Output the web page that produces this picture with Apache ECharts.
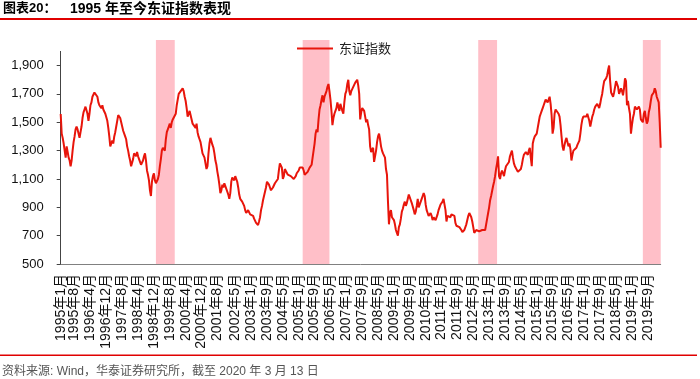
<!DOCTYPE html>
<html><head><meta charset="utf-8">
<script src="https://cdn.jsdelivr.net/npm/echarts@6/dist/echarts.min.js"></script>
<style>
html,body{margin:0;padding:0;background:#fff}
#wrap{position:relative;width:700px;height:379px}
#c{width:700px;height:379px}
#rule{position:absolute;left:0;top:18px;width:697px;height:1.5px;background:#E00000;z-index:10}
</style>
</head><body><div id="wrap"><div id="c"></div><div id="rule"></div></div>
<script>
// ---- data ----
// semi-monthly observation dates (1st and 16th of each month), last one 2020/3/13
const startYear = 1995, endYear = 2020, endMonth = 3, lastDay = 13;
const categories = [];
for (let y = startYear; y <= endYear; y++) {
  for (let m = 1; m <= 12; m++) {
    if (y === endYear && m > endMonth) break;
    categories.push(y + '/' + m + '/1');
    categories.push(y + '/' + m + '/' + ((y === endYear && m === endMonth) ? lastDay : 16));
  }
}
const tickLabels = ['1995年1月','1995年8月','1996年4月','1996年12月','1997年8月','1998年4月','1998年12月','1999年8月',
  '2000年4月','2000年12月','2001年8月','2002年5月','2003年1月','2003年9月','2004年5月','2005年1月','2005年9月',
  '2006年5月','2007年1月','2007年9月','2008年5月','2009年1月','2009年9月','2010年5月','2011年1月','2011年9月',
  '2012年5月','2013年1月','2013年9月','2014年5月','2015年1月','2015年9月','2016年5月','2017年1月','2017年9月',
  '2018年5月','2019年1月','2019年9月'];
const yTicks = [500, 700, 900, 1100, 1300, 1500, 1700, 1900];
const seriesName = '东证指数';
const topixValues = [
  1558,1420,1390,1350,1300,1250,1330,1290,1250,1230,1190,1230,1300,1360,1400,1450,1470,1450,1420,1390,1430,1470,1530,1570, // 1995
  1590,1610,1600,1560,1510,1560,1620,1640,1680,1690,1710,1720,1700,1680,1640,1620,1610,1600,1620,1590,1580,1560,1550,1510, // 1996
  1460,1400,1330,1350,1370,1350,1400,1430,1470,1510,1550,1540,1530,1500,1490,1440,1430,1400,1380,1330,1300,1260,1230,1190, // 1997
  1190,1240,1280,1270,1260,1290,1260,1240,1220,1200,1200,1230,1260,1280,1230,1160,1130,1090,1020,980,1080,1120,1140,1090,  // 1998
  1070,1080,1100,1130,1190,1240,1300,1320,1330,1300,1380,1430,1450,1470,1490,1460,1500,1520,1530,1520,1560,1620,1660,1700, // 1999
  1690,1720,1730,1740,1720,1680,1650,1600,1540,1560,1580,1550,1520,1490,1500,1480,1460,1490,1430,1400,1380,1360,1320,1280, // 2000
  1270,1250,1210,1170,1190,1280,1350,1390,1380,1340,1320,1280,1230,1200,1150,1110,1060,1000,1020,1060,1040,1070,1050,1040, // 2001
  1010,990,960,1000,1080,1110,1100,1090,1120,1130,1080,1040,990,960,970,940,930,910,880,860,870,880,870,850,               // 2002
  850,840,840,820,810,790,780,775,800,830,880,910,950,960,1010,1040,1080,1090,1060,1040,1020,1030,1040,1050,               // 2003
  1070,1080,1060,1100,1160,1210,1200,1180,1100,1120,1170,1180,1160,1130,1120,1130,1120,1110,1130,1100,1110,1120,1140,1150, // 2004
  1160,1180,1170,1190,1180,1160,1130,1120,1140,1150,1160,1180,1190,1200,1250,1300,1350,1420,1450,1430,1520,1590,1620,1660, // 2005
  1690,1640,1680,1700,1720,1750,1770,1720,1660,1580,1480,1530,1560,1550,1600,1640,1610,1580,1630,1620,1580,1560,1640,1700, // 2006
  1720,1770,1800,1720,1690,1720,1730,1750,1760,1780,1790,1800,1760,1700,1520,1570,1600,1590,1580,1540,1500,1520,1480,1450, // 2007
  1330,1290,1280,1320,1220,1210,1300,1360,1400,1420,1380,1330,1300,1280,1270,1250,1170,1130,940,780,860,880,830,820,       // 2008
  810,780,740,720,700,760,780,820,870,890,920,940,910,930,960,990,980,950,930,920,880,850,870,910,                         // 2009
  960,900,890,910,960,980,1000,980,920,880,860,840,850,860,840,810,830,840,810,820,850,880,900,920,                        // 2010
  920,940,960,970,880,800,840,850,840,830,850,860,850,840,790,770,770,760,760,750,740,725,730,740,                         // 2011
  750,780,810,840,860,860,830,800,760,720,710,740,750,740,730,735,730,740,735,730,740,780,820,860,                         // 2012
  900,950,980,990,1050,1080,1120,1170,1210,1260,1120,1100,1140,1160,1140,1120,1160,1190,1200,1190,1220,1260,1280,1300,     // 2013
  1250,1210,1190,1180,1200,1150,1160,1140,1170,1200,1240,1270,1280,1290,1280,1270,1300,1320,1250,1190,1350,1380,1400,1410, // 2014
  1420,1460,1500,1540,1560,1580,1600,1620,1640,1660,1670,1640,1660,1680,1630,1550,1420,1460,1560,1590,1600,1580,1560,1540, // 2015
  1480,1400,1330,1300,1340,1370,1390,1360,1330,1350,1310,1230,1270,1300,1310,1300,1320,1340,1350,1370,1420,1480,1520,1540, // 2016
  1540,1550,1540,1560,1550,1510,1470,1460,1540,1560,1590,1610,1620,1630,1620,1600,1630,1670,1700,1750,1790,1780,1810,1830, // 2017
  1870,1900,1790,1710,1720,1680,1710,1750,1790,1780,1750,1700,1720,1740,1720,1690,1740,1810,1790,1620,1650,1600,1560,1420, // 2018
  1480,1530,1560,1610,1620,1590,1600,1610,1590,1520,1520,1500,1560,1580,1530,1490,1510,1570,1600,1650,1690,1700,1710,1740, // 2019
  1720,1680,1690,1640,1500,1320                                                                                             // 2020
];
const bandStarts = ['1999/1/1', '2005/3/1', '2012/7/16', '2019/6/16'];
const bandEnds   = ['1999/10/16', '2006/4/16', '2013/5/1', '2020/3/13'];

// ---- chart ----
const FONT = '"Liberation Sans","Noto Sans CJK SC",sans-serif';
const RED = '#E8150B';
const toLabel = v => { const p = v.split('/'); return p[0] + '年' + p[1] + '月'; };
const chart = echarts.init(document.getElementById('c'), null, {renderer: 'canvas'});
const fmt = v => String(v).replace(/\B(?=(\d{3})+(?!\d))/g, ',');
chart.setOption({
  animation: false,
  backgroundColor: '#fff',
  grid: [
    {left: 60.7, right: 39.3, top: 51.4, bottom: 115},
    {left: 60.7, right: 39.3, top: 40, bottom: 115}
  ],
  legend: {
    data: [{name: seriesName, icon: 'rect'}], left: 297, top: 42, padding: 0,
    itemWidth: 36, itemHeight: 2, itemGap: 6,
    textStyle: {fontSize: 13, color: '#222', fontFamily: '"Noto Sans CJK SC",sans-serif', padding: [0, 0, 0, 1]}
  },
  xAxis: [
    {type: 'category', gridIndex: 0, data: categories, boundaryGap: false,
     axisLine: {lineStyle: {color: '#808080', width: 1}}, axisTick: {show: false},
     axisLabel: {interval: (i, v) => v.endsWith('/1') && tickLabels.includes(toLabel(v)),
       formatter: toLabel, rotate: 90, margin: 10, fontSize: 14, color: '#111', fontFamily: FONT}},
    {type: 'category', gridIndex: 1, data: categories, boundaryGap: false, show: false}
  ],
  yAxis: [
    {type: 'value', gridIndex: 0, min: 500, max: 2000,
     axisLine: {show: true, lineStyle: {color: '#444', width: 1}},
     axisTick: {show: true, length: 4, customValues: yTicks, lineStyle: {color: '#444'}},
     axisLabel: {customValues: yTicks, formatter: fmt, margin: 17, fontSize: 13, color: '#111', fontFamily: FONT},
     splitLine: {show: false}},
    {type: 'value', gridIndex: 1, min: 0, max: 1, show: false}
  ],
  series: [
    {type: 'line', xAxisIndex: 1, yAxisIndex: 1, data: [], z: 1, silent: true,
     markArea: {silent: true, itemStyle: {color: '#FFBFC8'},
       data: bandStarts.map((s, i) => [{xAxis: s}, {xAxis: bandEnds[i]}])}},
    {name: seriesName, type: 'line', xAxisIndex: 0, yAxisIndex: 0, data: topixValues,
     symbol: 'none', showSymbol: false, z: 3,
     lineStyle: {color: RED, width: 2}, itemStyle: {color: RED}}
  ],
  graphic: {
    elements: [
      {type: 'text', id: 't1', left: 3, top: 2, style: {text: '图表20：', font: 'bold 13px ' + FONT, fill: '#000'}},
      {type: 'text', id: 't2', left: 70, top: 2, style: {text: '1995 年至今东证指数表现', font: 'bold 14px ' + FONT, fill: '#000'}},
      {type: 'rect', id: 'topRule', left: 0, top: 18, zlevel: 2, shape: {x: 0, y: 0, width: 697, height: 1.5}, style: {fill: '#E00000'}},
      {type: 'rect', id: 'bottomRule', left: 0, top: 354.5, shape: {x: 0, y: 0, width: 697, height: 1.5}, style: {fill: '#E00000'}},
      {type: 'text', id: 'foot', left: 2, top: 366, style: {text: '资料来源: Wind，华泰证券研究所，截至 2020 年 3 月 13 日', font: '12px ' + FONT, fill: '#555'}}
    ]
  }
});
</script></body></html>
